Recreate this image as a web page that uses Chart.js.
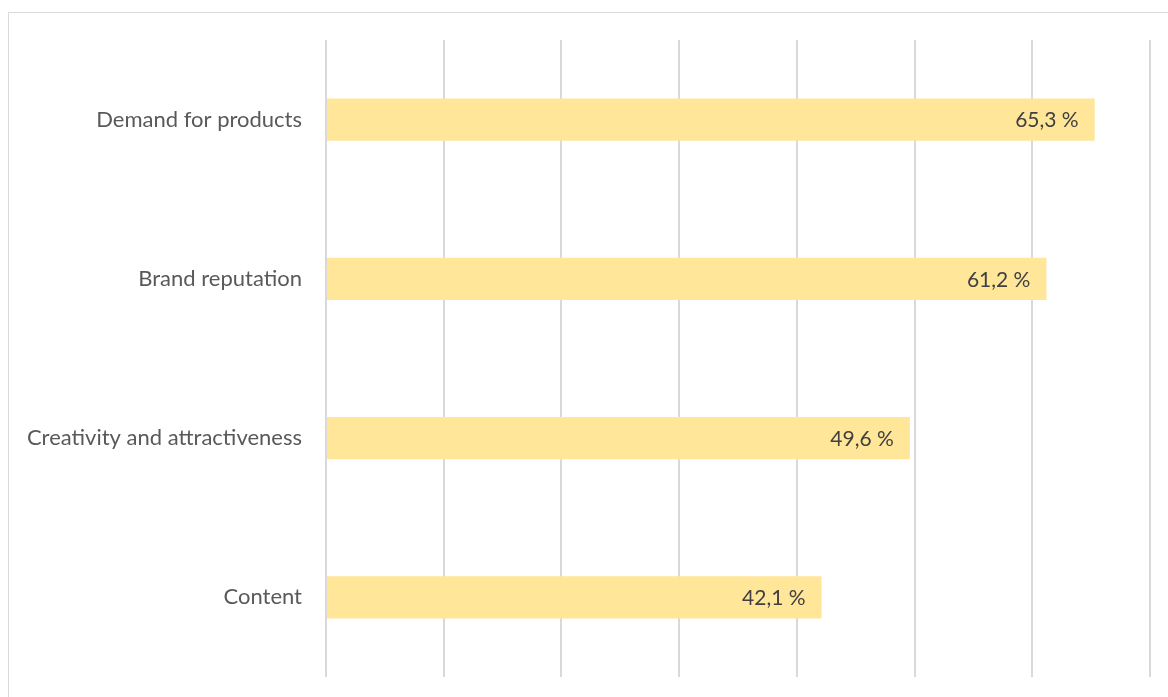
<!DOCTYPE html>
<html>
<head>
<meta charset="utf-8">
<script src="https://cdn.jsdelivr.net/npm/chart.js@4.4.1/dist/chart.umd.min.js"></script>
<style>
  html, body { margin: 0; padding: 0; background: #ffffff; overflow: hidden; }
  #wrap { position: relative; width: 1168px; height: 697px; }
  #frame { position: absolute; left: 8px; top: 12px; width: 1200px; height: 720px;
           border-left: 1px solid #d9d9d9; border-top: 1px solid #d9d9d9; }
  canvas { position: absolute; left: 0; top: 0; }
</style>
</head>
<body>
<div id="wrap">
  <div id="frame"></div>
  <canvas id="chart" width="1168" height="697"></canvas>
</div>
<script>
// Share of respondents naming each factor
const categories = ["Demand for products", "Brand reputation", "Creativity and attractiveness", "Content"];
const shares = [65.3, 61.2, 49.6, 42.1];
const axisMax = 70;
const axisStep = 10;

const fontFamily = "Lato, 'Open Sans', sans-serif";

// Value labels drawn inside the end of each bar
const insideEndLabels = {
  id: 'insideEndLabels',
  afterDatasetsDraw(chart) {
    const ctx = chart.ctx;
    const meta = chart.getDatasetMeta(0);
    ctx.save();
    ctx.font = "21px " + fontFamily;
    ctx.fillStyle = "#404040";
    ctx.textAlign = "right";
    ctx.textBaseline = "middle";
    meta.data.forEach((bar, i) => {
      const txt = shares[i].toFixed(1).replace('.', ',') + " %";
      ctx.fillText(txt, bar.x - 16, bar.y + 1);
    });
    ctx.restore();
  }
};

new Chart(document.getElementById('chart'), {
  type: 'bar',
  data: {
    labels: categories,
    datasets: [{
      data: shares,
      backgroundColor: "#FFE699",
      borderWidth: 0,
      categoryPercentage: 1,
      barPercentage: 0.264
    }]
  },
  options: {
    indexAxis: 'y',
    responsive: false,
    animation: false,
    layout: { padding: { top: 40, bottom: 20, right: 18, left: 0 } },
    plugins: { legend: { display: false }, tooltip: { enabled: false } },
    scales: {
      x: {
        min: 0, max: axisMax,
        ticks: { display: false, stepSize: axisStep },
        grid: { color: "#d9d9d9", lineWidth: 2, drawTicks: false },
        border: { display: false },
        afterFit(scale) { scale.height = 0; }
      },
      y: {
        grid: { display: false, drawTicks: false },
        border: { display: false },
        ticks: { color: "#595959", padding: 24, font: { family: fontFamily, size: 22 } },
        afterFit(scale) {
          scale.width = 326;
          scale.paddingTop = 0;
          scale.paddingBottom = 0;
        }
      }
    }
  },
  plugins: [insideEndLabels]
});
</script>
</body>
</html>
